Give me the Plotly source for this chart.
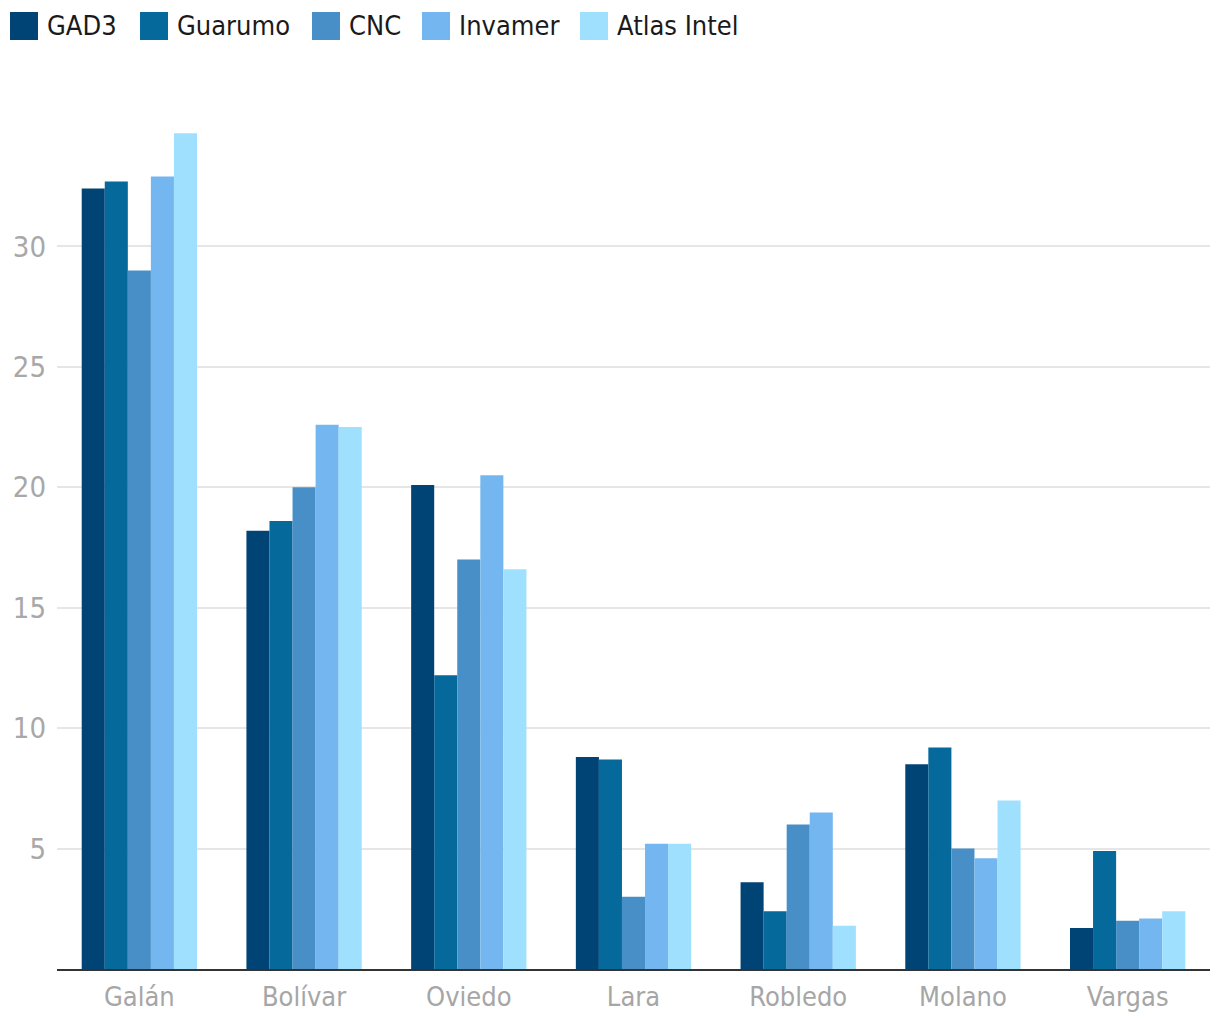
import plotly.graph_objects as go

categories = ["Galán", "Bolívar", "Oviedo", "Lara", "Robledo", "Molano", "Vargas"]
pollsters = ["GAD3", "Guarumo", "CNC", "Invamer", "Atlas Intel"]
gad3 = [32.4, 18.2, 20.1, 8.8, 3.6, 8.5, 1.7]
guarumo = [32.7, 18.6, 12.2, 8.7, 2.4, 9.2, 4.9]
cnc = [29.0, 20.0, 17.0, 3.0, 6.0, 5.0, 2.0]
invamer = [32.9, 22.6, 20.5, 5.2, 6.5, 4.6, 2.1]
atlas = [34.7, 22.5, 16.6, 5.2, 1.8, 7.0, 2.4]
series = [gad3, guarumo, cnc, invamer, atlas]
colors = ["#004475", "#05699c", "#478fc6", "#74b7f0", "#9fe0fe"]
ytick_vals = [5, 10, 15, 20, 25, 30]

FONT = "DejaVu Sans Condensed, Liberation Sans Narrow, sans-serif"

W, H = 1220, 1020
L, R, T, B = 49, 18, 118, 59
PW, PH = W - L - R, H - T - B

def px_to_paper_x(px):
    return (px - L) / PW

def px_to_paper_y(py):
    return (H - B - py) / PH

fig = go.Figure()
for name, vals, col in zip(pollsters, series, colors):
    fig.add_trace(go.Bar(x=categories, y=vals, name=name, marker_color=col,
                         marker_line_width=0, showlegend=False))

# custom legend (large squares + labels)
legend_left = [2, 132, 304, 414, 572]
sq, top = 28, 4
shapes, annotations = [], []
for name, col, lx in zip(pollsters, colors, legend_left):
    shapes.append(dict(type="rect", xref="paper", yref="paper",
                       x0=px_to_paper_x(lx), x1=px_to_paper_x(lx + sq),
                       y0=px_to_paper_y(top + sq), y1=px_to_paper_y(top),
                       fillcolor=col, line_width=0))
    annotations.append(dict(text=name, xref="paper", yref="paper",
                            x=px_to_paper_x(lx + sq + 7), y=px_to_paper_y(top + sq / 2),
                            xanchor="left", yanchor="middle", showarrow=False,
                            font=dict(family=FONT, size=27, color="#1a1a1a")))

fig.update_layout(
    width=W, height=H,
    margin=dict(l=L, r=R, t=T, b=B, autoexpand=False),
    paper_bgcolor="white", plot_bgcolor="white",
    barmode="group", bargap=0.3, bargroupgap=0,
    font=dict(family=FONT, size=24, color="#222"),
    showlegend=False,
    shapes=shapes, annotations=annotations,
    xaxis=dict(showgrid=False, showline=True, linecolor="#333", linewidth=2,
               ticks="", tickfont=dict(size=27, color="#a6a6a6"),
               ticklabelstandoff=3, automargin=False),
    yaxis=dict(range=[0, 35], tickvals=ytick_vals, showgrid=True,
               gridcolor="#e6e6e6", gridwidth=2, zeroline=False, showline=False,
               ticks="", tickfont=dict(size=29, color="#a8a8a8"),
               ticklabelstandoff=10, automargin=False),
)

fig.write_html("out.html")
